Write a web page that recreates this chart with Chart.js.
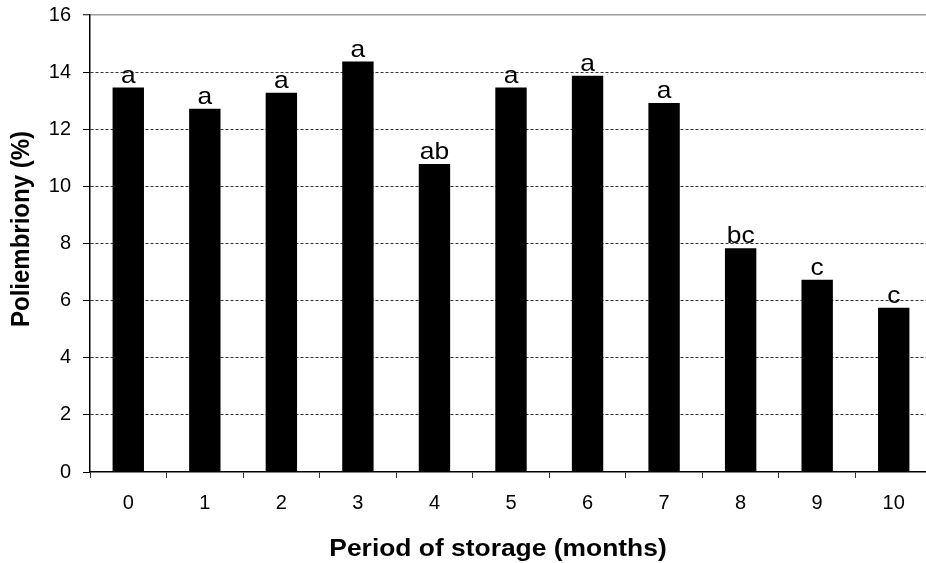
<!DOCTYPE html>
<html>
<head>
<meta charset="utf-8">
<script src="https://cdn.jsdelivr.net/npm/chart.js@4.4.1/dist/chart.umd.min.js"></script>
<style>
    html, body { margin: 0; padding: 0; background: #fff; overflow: hidden; }
    #wrap { width: 932px; height: 563px; position: relative; }
</style>
</head>
<body>
<div id="wrap"><canvas id="chart"></canvas></div>
<script>
// storage period (months) and polyembryony (%)
const months = ['0', '1', '2', '3', '4', '5', '6', '7', '8', '9', '10'];
const poliembriony = [13.46, 12.72, 13.28, 14.37, 10.78, 13.46, 13.87, 12.92, 7.83, 6.73, 5.75];
const letters = ['a', 'a', 'a', 'a', 'ab', 'a', 'a', 'a', 'bc', 'c', 'c'];
const yMin = 0;
const yMax = 16;
const yStep = 2;

const FONT = "'Liberation Sans', Arial, sans-serif";
const STRETCH = 1.1; // the source figure is a little wider than its fonts

// letters of significance above each bar
const letterPlugin = {
    id: 'letters',
    afterDatasetsDraw(chart) {
        const ctx = chart.ctx;
        const meta = chart.getDatasetMeta(0);
        ctx.font = `24px ${FONT}`;
        ctx.fillStyle = '#000';
        ctx.textAlign = 'center';
        ctx.textBaseline = 'alphabetic';
        meta.data.forEach((bar, i) => {
            ctx.save();
            ctx.translate(bar.x, bar.y - 5);
            ctx.scale(STRETCH, 1);
            ctx.fillText(letters[i], 0, 0);
            ctx.restore();
        });
    }
};

// axis titles (the original sits a bit off-centre, so draw them by hand)
const titlePlugin = {
    id: 'axisTitles',
    afterDraw(chart) {
        const ctx = chart.ctx;
        ctx.save();
        ctx.fillStyle = '#000';
        ctx.textAlign = 'center';
        ctx.textBaseline = 'middle';
        ctx.font = `bold 24px ${FONT}`;
        ctx.translate(498, 549);
        ctx.scale(STRETCH, 1);
        ctx.fillText('Period of storage (months)', 0, 0);
        ctx.restore();

        ctx.save();
        ctx.fillStyle = '#000';
        ctx.textAlign = 'center';
        ctx.textBaseline = 'middle';
        ctx.font = `bold 24px ${FONT}`;
        ctx.translate(22, 229);
        ctx.scale(STRETCH, 1);
        ctx.rotate(-Math.PI / 2);
        ctx.fillText('Poliembriony (%)', 0, 0);
        ctx.restore();
    }
};

new Chart(document.getElementById('chart'), {
    type: 'bar',
    data: {
        labels: months,
        datasets: [{
            data: poliembriony,
            backgroundColor: '#000',
            borderWidth: 0,
            barPercentage: 0.41,
            categoryPercentage: 1
        }]
    },
    options: {
        responsive: true,
        maintainAspectRatio: false,
        animation: false,
        layout: { padding: { top: 15, left: 0, right: 0, bottom: 0 } },
        plugins: {
            legend: { display: false },
            tooltip: { enabled: false }
        },
        scales: {
            x: {
                offset: true,
                afterFit: (scale) => { scale.height = 91; scale.paddingLeft = 0; scale.paddingRight = 0; },
                grid: {
                    offset: true,
                    drawOnChartArea: false,
                    drawTicks: true,
                    tickLength: 6,
                    tickColor: '#333',
                    tickWidth: 1
                },
                border: { display: true, color: '#000', width: 1.5 },
                ticks: {
                    color: '#000',
                    padding: 13,
                    font: { family: FONT, size: 20 }
                }
            },
            y: {
                min: yMin,
                max: yMax,
                afterFit: (scale) => { scale.width = 90; scale.paddingTop = 0; scale.paddingBottom = 0; },
                grid: {
                    color: (c) => c.tick && c.tick.value === yMax ? '#999' : (c.tick && c.tick.value === yMin ? 'rgba(0,0,0,0)' : '#333'),
                    lineWidth: (c) => c.tick && c.tick.value === yMax ? 1.5 : 1,
                    drawTicks: true,
                    tickLength: 7,
                    tickColor: '#000',
                    tickWidth: 1,
                    tickBorderDash: []
                },
                border: {
                    display: true,
                    color: '#000',
                    width: 1.5,
                    dash: (c) => c.tick && c.tick.value === yMax ? [] : [3, 2]
                },
                ticks: {
                    stepSize: yStep,
                    color: '#000',
                    padding: 12,
                    font: { family: FONT, size: 20 }
                }
            }
        }
    },
    plugins: [letterPlugin, titlePlugin]
});
</script>
</body>
</html>
